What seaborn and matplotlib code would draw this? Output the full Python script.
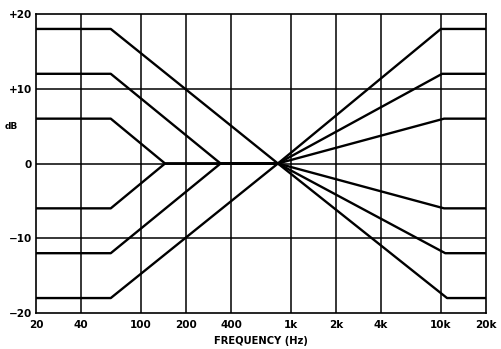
import matplotlib
matplotlib.use("Agg")
import matplotlib.pyplot as plt
import seaborn as sns
import pandas as pd

# Bass curves (breakpoints)
bass_freqs = [
    [20, 63, 820],
    [20, 63, 340, 820],
    [20, 63, 145, 820],
    [20, 63, 145, 820],
    [20, 63, 340, 820],
    [20, 63, 820],
]
bass_db = [
    [18, 18, 0],
    [12, 12, 0, 0],
    [6, 6, 0, 0],
    [-6, -6, 0, 0],
    [-12, -12, 0, 0],
    [-18, -18, 0],
]
# Treble curves
treble_freqs = [
    [820, 10000, 20000],
    [820, 10200, 20000],
    [820, 10500, 20000],
    [820, 10500, 20000],
    [820, 10700, 20000],
    [820, 11000, 20000],
]
treble_db = [
    [0, 18, 18],
    [0, 12, 12],
    [0, 6, 6],
    [0, -6, -6],
    [0, -12, -12],
    [0, -18, -18],
]

x_ticks = [20, 40, 100, 200, 400, 1000, 2000, 4000, 10000, 20000]
x_labels = ["20", "40", "100", "200", "400", "1k", "2k", "4k", "10k", "20k"]
y_ticks = [-20, -10, 0, 10, 20]
y_labels = ["\u221220", "\u221210", "0", "+10", "+20"]

rows = []
cid = 0
for fs, ds in list(zip(bass_freqs, bass_db)) + list(zip(treble_freqs, treble_db)):
    for f, d in zip(fs, ds):
        rows.append({"curve": cid, "freq": f, "dB": d})
    cid += 1
df = pd.DataFrame(rows)

sns.set_theme(style="white")
plt.rcParams["font.family"] = ["DejaVu Sans"]

fig = plt.figure(figsize=(5.02, 3.49), dpi=100)
ax = fig.add_axes([36 / 502, 36 / 349, 450 / 502, 299 / 349])
ax.set_xscale("log")
ax.set_xlim(20, 20000)
ax.set_ylim(-20, 20)

for xv in x_ticks[1:-1]:
    ax.axvline(xv, color="black", lw=1.1, zorder=1)
for yv in [-10, 0, 10]:
    ax.axhline(yv, color="black", lw=1.1, zorder=1)

sns.lineplot(data=df, x="freq", y="dB", units="curve", estimator=None,
             sort=False, color="black", lw=1.7, ax=ax, zorder=3)

ax.set_xticks(x_ticks)
ax.set_xticklabels(x_labels)
ax.minorticks_off()
ax.set_yticks(y_ticks)
ax.set_yticklabels(y_labels)
ax.tick_params(axis="x", length=0, labelsize=7.5, pad=5, colors="black")
ax.tick_params(axis="y", length=0, labelsize=7.5, pad=3, colors="black")
for lab in ax.get_xticklabels() + ax.get_yticklabels():
    lab.set_fontweight("bold")

ax.set_xlabel("FREQUENCY (Hz)", fontsize=7.2, fontweight="bold", labelpad=4, color="black")
ax.set_ylabel("")
ax.text(-0.04, 0.625, "dB", transform=ax.transAxes, fontsize=6.5,
        fontweight="bold", ha="right", va="center", color="black")

for s in ax.spines.values():
    s.set_color("black")
    s.set_linewidth(1.2)
    s.set_visible(True)

fig.savefig("out.png", dpi=100, facecolor="white")
